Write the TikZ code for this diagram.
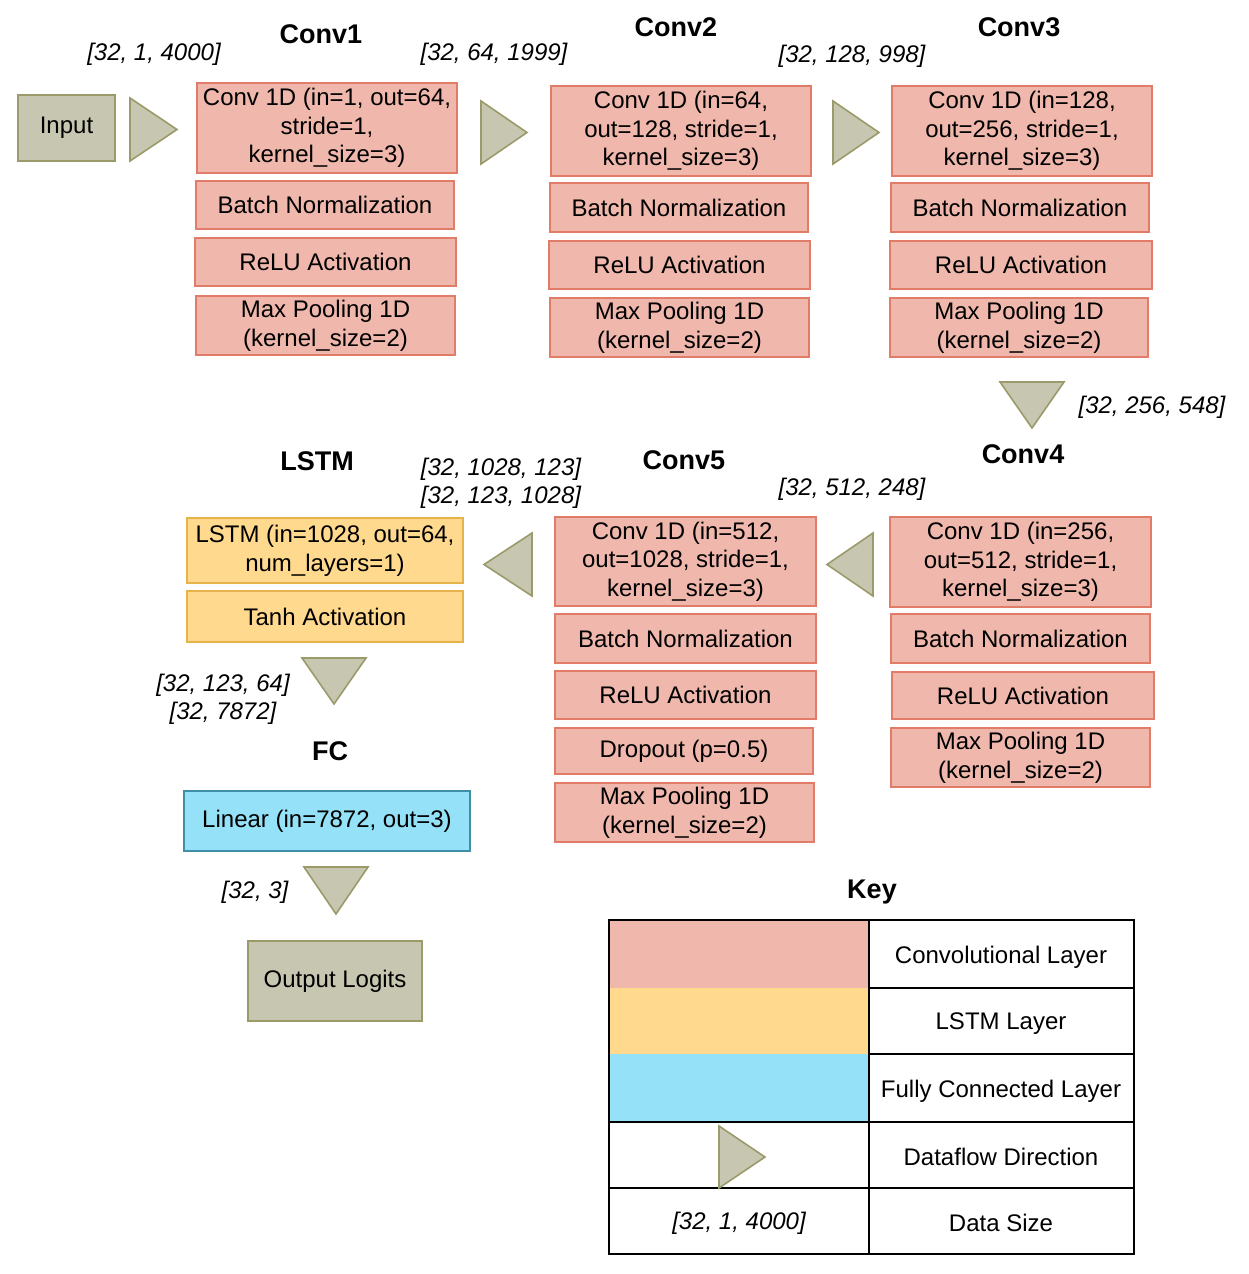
\documentclass[tikz,border=0pt]{standalone}
\usepackage{fontspec}
\setmainfont{Liberation Sans}
\definecolor{convfill}{HTML}{F0B8AC}
\definecolor{convline}{HTML}{E07C68}
\definecolor{lstmfill}{HTML}{FFD98E}
\definecolor{lstmline}{HTML}{E6B24A}
\definecolor{fcfill}{HTML}{95E1F8}
\definecolor{fcline}{HTML}{3F8FA8}
\definecolor{grayfill}{HTML}{C7C6B0}
\definecolor{grayline}{HTML}{9A9A6A}
\tikzset{
  lay/.style={draw, line width=0.9pt, align=center, inner sep=0pt, font=\fontsize{12}{14.3}\selectfont},
  conv/.style={lay, fill=convfill, draw=convline},
  lstm/.style={lay, fill=lstmfill, draw=lstmline},
  fcl/.style={lay, fill=fcfill, draw=fcline},
  io/.style={lay, fill=grayfill, draw=grayline},
  tri/.style={fill=grayfill, draw=grayline, line width=0.8pt, line join=miter},
  ttl/.style={font=\bfseries\fontsize{13.5}{16}\selectfont, inner sep=0pt, yshift=-1.2pt},
  sz/.style={font=\itshape\fontsize{12}{14}\selectfont, align=center, inner sep=0pt, yshift=-1.2pt},
  keytxt/.style={font=\fontsize{12}{14}\selectfont, inner sep=0pt, yshift=-1.2pt},
  keyline/.style={draw=black, line width=0.8pt}
}
\begin{document}
\begin{tikzpicture}[x=0.5pt,y=-0.5pt]
\path[use as bounding box] (0,0) rectangle (1248,1274);

% Input
\node[io, minimum width=48.5pt, minimum height=33pt] (inp) at (66.5,128) {Input};
\node[sz] (s0) at (154,52) {[32, 1, 4000]};
\draw[tri] (130,98) -- (177,129.5) -- (130,161) -- cycle;

% Conv1
\node[ttl] (t1) at (321,32) {Conv1};
\node[conv, minimum width=130pt, minimum height=45pt] (c1a) at (327,128) {Conv 1D (in=1, out=64,\\stride=1,\\kernel\_size=3)};
\node[conv, minimum width=129pt, minimum height=24pt] (c1b) at (325,205) {Batch Normalization};
\node[conv, minimum width=130.5pt, minimum height=24pt] (c1c) at (325.5,262) {ReLU Activation};
\node[conv, minimum width=129.5pt, minimum height=29.5pt] (c1d) at (325.5,325.5) {Max Pooling 1D\\(kernel\_size=2)};

\node[sz] (s1) at (494,52) {[32, 64, 1999]};
\draw[tri] (481,101) -- (527,132.5) -- (481,164) -- cycle;

% Conv2
\node[ttl] (t2) at (676,25) {Conv2};
\node[conv, minimum width=130pt, minimum height=45pt] (c2a) at (681,131) {Conv 1D (in=64,\\out=128, stride=1,\\kernel\_size=3)};
\node[conv, minimum width=129pt, minimum height=24.5pt] (c2b) at (679,207.5) {Batch Normalization};
\node[conv, minimum width=130.5pt, minimum height=24pt] (c2c) at (679.5,265) {ReLU Activation};
\node[conv, minimum width=129.5pt, minimum height=29.5pt] (c2d) at (679.5,327.5) {Max Pooling 1D\\(kernel\_size=2)};

\node[sz] (s2) at (852,54) {[32, 128, 998]};
\draw[tri] (833,101) -- (879,132.5) -- (833,164) -- cycle;

% Conv3
\node[ttl] (t3) at (1019,25) {Conv3};
\node[conv, minimum width=130pt, minimum height=45pt] (c3a) at (1022,131) {Conv 1D (in=128,\\out=256, stride=1,\\kernel\_size=3)};
\node[conv, minimum width=129pt, minimum height=24.5pt] (c3b) at (1020,207.5) {Batch Normalization};
\node[conv, minimum width=131pt, minimum height=24pt] (c3c) at (1021,265) {ReLU Activation};
\node[conv, minimum width=129pt, minimum height=29.5pt] (c3d) at (1019,327.5) {Max Pooling 1D\\(kernel\_size=2)};

\draw[tri] (1000,382) -- (1064,382) -- (1032,428) -- cycle;
\node[sz] (s3) at (1152,405) {[32, 256, 548]};

% Conv4
\node[ttl] (t4) at (1023,452) {Conv4};
\node[conv, minimum width=130.5pt, minimum height=45pt] (c4a) at (1020.5,562) {Conv 1D (in=256,\\out=512, stride=1,\\kernel\_size=3)};
\node[conv, minimum width=129.5pt, minimum height=24.5pt] (c4b) at (1020.5,638.5) {Batch Normalization};
\node[conv, minimum width=131pt, minimum height=23.5pt] (c4c) at (1023,695.5) {ReLU Activation};
\node[conv, minimum width=129.5pt, minimum height=29.5pt] (c4d) at (1020.5,757.5) {Max Pooling 1D\\(kernel\_size=2)};

\node[sz] (s4) at (852,487) {[32, 512, 248]};
\draw[tri] (873,533) -- (827,564.5) -- (873,596) -- cycle;

% Conv5
\node[ttl] (t5) at (684,458) {Conv5};
\node[conv, minimum width=130.5pt, minimum height=44.5pt] (c5a) at (685.5,561.5) {Conv 1D (in=512,\\out=1028, stride=1,\\kernel\_size=3)};
\node[conv, minimum width=130.5pt, minimum height=24.5pt] (c5b) at (685.5,638.5) {Batch Normalization};
\node[conv, minimum width=130.5pt, minimum height=24pt] (c5c) at (685.5,695) {ReLU Activation};
\node[conv, minimum width=129pt, minimum height=23pt] (c5d) at (684,751) {Dropout (p=0.5)};
\node[conv, minimum width=129.5pt, minimum height=29.5pt] (c5e) at (684.5,812.5) {Max Pooling 1D\\(kernel\_size=2)};

\node[sz] (s5) at (501,481) {{[32, 1028, 123]}\\{[32, 123, 1028]}};
\draw[tri] (532,533) -- (484,564.5) -- (532,596) -- cycle;

% LSTM
\node[ttl] (t6) at (317,459) {LSTM};
\node[lstm, minimum width=138pt, minimum height=32.5pt] (la) at (325,550.5) {LSTM (in=1028, out=64,\\num\_layers=1)};
\node[lstm, minimum width=138pt, minimum height=25.5pt] (lb) at (325,616.5) {Tanh Activation};

\draw[tri] (302,658) -- (366,658) -- (334,704) -- cycle;
\node[sz] (s6) at (223,697) {{[32, 123, 64]}\\{[32, 7872]}};

% FC
\node[ttl] (t7) at (330,749) {FC};
\node[fcl, minimum width=143pt, minimum height=30pt] (fc) at (327,821) {Linear (in=7872, out=3)};

\draw[tri] (304,867) -- (368,867) -- (336,914) -- cycle;
\node[sz] (s7) at (255,890) {[32, 3]};

\node[io, minimum width=87pt, minimum height=40pt] (out) at (335,981) {Output Logits};

% Key
\node[ttl] (tk) at (872,890) {Key};
\fill[convfill] (609,920) rectangle (869,988);
\fill[lstmfill] (609,988) rectangle (869,1054);
\fill[fcfill] (609,1054) rectangle (869,1122);
\draw[keyline] (609,920) rectangle (1134,1254);
\draw[keyline] (869,920) -- (869,1254);
\draw[keyline] (869,988) -- (1134,988);
\draw[keyline] (869,1054) -- (1134,1054);
\draw[keyline] (609,1122) -- (1134,1122);
\draw[keyline] (609,1188) -- (1134,1188);
\draw[tri] (719,1126) -- (765,1157) -- (719,1188) -- cycle;
\node[keytxt] (k1) at (1001,955) {Convolutional Layer};
\node[keytxt] (k2) at (1001,1021) {LSTM Layer};
\node[keytxt] (k3) at (1001,1089) {Fully Connected Layer};
\node[keytxt] (k4) at (1001,1155) {Dataflow Direction};
\node[keytxt] (k5) at (1001,1221) {Data Size};
\node[sz] (k6) at (739,1221) {[32, 1, 4000]};
\end{tikzpicture}
\end{document}
